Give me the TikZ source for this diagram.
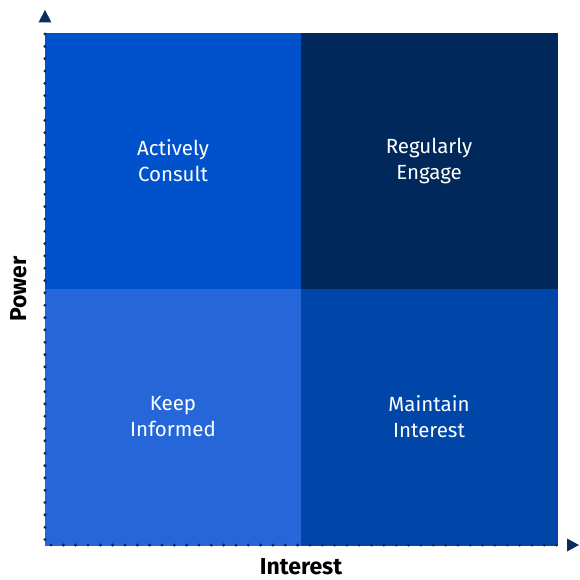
\documentclass[tikz,border=0pt]{standalone}
\usepackage{fontspec}
\setmainfont{Fira Sans}
\usetikzlibrary{positioning, arrows.meta}

\definecolor{consultblue}{HTML}{0052CC}
\definecolor{engagenavy}{HTML}{00285A}
\definecolor{informblue}{HTML}{2567D9}
\definecolor{maintainblue}{HTML}{0046A8}
\definecolor{axisnavy}{HTML}{0B2D5E}

\begin{document}
\begin{tikzpicture}[x=1pt, y=-1pt,
	quad/.style={rectangle, minimum width=256pt, minimum height=256pt, inner sep=0pt,
		outer sep=0pt, fill=#1, draw=#1, line width=0.6pt,
		text=white, align=center, font=\fontsize{20.5}{26}\selectfont},
	axisdot/.style={axisnavy, radius=1.7pt},
	axislabel/.style={font=\fontsize{23}{26}\selectfont\bfseries}]
	\useasboundingbox (0,0) rectangle (579,580);
	% the four quadrants
	\node[quad=consultblue, anchor=north west] (consult) at (45,33) {Actively\\Consult};
	\node[quad=engagenavy, right=0pt of consult] (engage) {Regularly\\Engage};
	\node[quad=informblue, below=0pt of consult] (inform) {Keep\\Informed};
	\node[quad=maintainblue, right=0pt of inform] (maintain) {Maintain\\Interest};
	% dotted axes
	\foreach \k in {0,...,41} {
		\fill[axisdot] (45,34+12.33*\k) circle;
		\fill[axisdot] (51+12.33*\k,545) circle;
	}
	% arrow heads
	\fill[axisnavy] (38.5,22.5) -- (45,10) -- (51.5,22.5) -- cycle;
	\fill[axisnavy] (567,538.5) -- (579,545) -- (567,551.5) -- cycle;
	% axis names
	\node[axislabel, rotate=90] (power) at (19,289) {Power};
	\node[axislabel] (interest) at (301,567) {Interest};
\end{tikzpicture}
\end{document}
